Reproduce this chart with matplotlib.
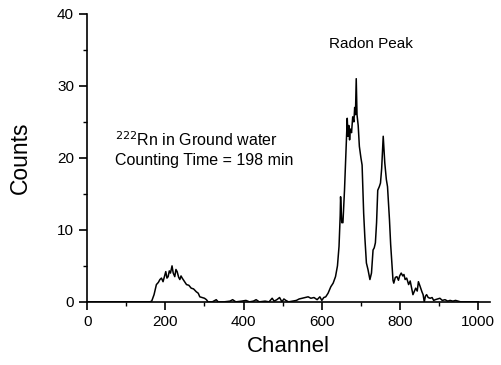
import matplotlib
matplotlib.use("Agg")
import matplotlib.pyplot as plt
from matplotlib.ticker import MultipleLocator

plt.rcParams['font.family'] = ['Liberation Sans', 'DejaVu Sans']

channels = [0, 160, 165, 171, 177, 182, 186, 190, 194, 198, 201, 204, 207, 210, 213,
            217, 220, 224, 227, 230, 234, 237, 240, 243, 248, 254, 260, 266, 272, 279,
            284, 288, 294, 300, 305, 309, 320, 330, 335, 350, 365, 372, 380, 395, 406,
            415, 425, 432, 440, 455, 465, 473, 478, 485, 492, 498, 503, 508, 515, 525,
            535, 542, 550, 558, 565, 572, 580, 588, 595, 600, 605, 610, 616, 623, 629,
            635, 640, 644, 647, 648, 651, 654, 658, 662, 665, 667, 669, 671, 673, 676,
            679, 682, 684, 686, 688, 690, 693, 696, 700, 703, 707, 710, 714, 718, 723,
            727, 731, 734, 737, 740, 743, 747, 750, 753, 757, 761, 765, 768, 773, 776,
            779, 782, 784, 788, 792, 796, 799, 803, 807, 810, 813, 817, 822, 826, 830,
            833, 837, 840, 844, 847, 851, 856, 859, 862, 865, 868, 872, 877, 882, 886,
            890, 896, 902, 908, 915, 922, 928, 935, 942, 949, 955, 960, 1000]
counts = [0, 0, 0.1, 1.0, 2.4, 2.7, 3.1, 3.3, 2.8, 3.6, 4.2, 3.3, 3.5, 4.3, 4.0,
          5.0, 4.0, 3.5, 4.5, 4.2, 3.4, 3.1, 3.6, 3.3, 2.9, 2.4, 2.3, 1.9, 1.8, 1.4,
          1.2, 0.7, 0.6, 0.5, 0.3, 0, 0, 0.3, 0, 0, 0.1, 0.3, 0, 0.1, 0.2,
          0, 0.1, 0.3, 0, 0.1, 0, 0.5, 0.1, 0.3, 0.6, 0, 0.4, 0.2, 0, 0.1,
          0.2, 0.4, 0.5, 0.6, 0.7, 0.5, 0.6, 0.3, 0.7, 0.2, 0.6, 0.7, 1.2, 2.1, 2.6,
          3.5, 5.0, 7.7, 12.0, 14.6, 11.0, 11.0, 15.5, 21.0, 25.5, 23.0, 24.5, 22.5, 24.0, 23.5,
          25.7, 25.0, 27.0, 26.0, 31.0, 26.0, 24.5, 21.6, 20.0, 19.0, 12.3, 9.0, 5.4, 4.5, 3.1,
          4.0, 7.2, 7.5, 8.2, 11.0, 15.5, 16.0, 16.5, 18.5, 23.0, 19.3, 17.0, 16.0, 11.4, 8.0,
          5.4, 3.0, 2.6, 3.4, 3.5, 3.0, 3.6, 4.0, 3.6, 3.8, 3.1, 3.3, 2.4, 2.9, 1.8,
          1.0, 1.5, 1.9, 1.5, 2.8, 2.2, 1.4, 1.0, 0, 0.8, 1.0, 0.6, 0.5, 0.6, 0.2,
          0.3, 0.4, 0.5, 0.2, 0.3, 0.1, 0.2, 0.1, 0.2, 0.1, 0, 0, 0]

x_ticks = [0, 200, 400, 600, 800, 1000]
y_ticks = [0, 10, 20, 30, 40]

fig = plt.figure(figsize=(5.01, 3.65), dpi=100)
ax = fig.add_axes([0.174, 0.173, 0.804, 0.789])
ax.plot(channels, counts, color='black', lw=1.1)
ax.set_xlim(0, 1030)
ax.set_ylim(0, 40)
ax.set_xticks(x_ticks)
ax.set_yticks(y_ticks)
ax.xaxis.set_minor_locator(MultipleLocator(100))
ax.yaxis.set_minor_locator(MultipleLocator(5))
for s in ['top', 'right']:
    ax.spines[s].set_visible(False)
for s in ['left', 'bottom']:
    ax.spines[s].set_linewidth(1.2)
ax.tick_params(which='major', direction='out', length=6, width=1.2, labelsize=11)
ax.tick_params(which='minor', direction='out', length=3, width=1)
ax.set_xlabel('Channel', fontsize=16, labelpad=5)
ax.set_ylabel('Counts', fontsize=16.5, labelpad=18)
ax.text(725, 35.8, 'Radon Peak', ha='center', va='center', fontsize=11)
ax.text(70, 22.5, r'$^{222}$Rn in Ground water', ha='left', va='center', fontsize=11.5)
ax.text(70, 19.7, 'Counting Time = 198 min', ha='left', va='center', fontsize=11.5)
fig.savefig('out.png', dpi=100)
